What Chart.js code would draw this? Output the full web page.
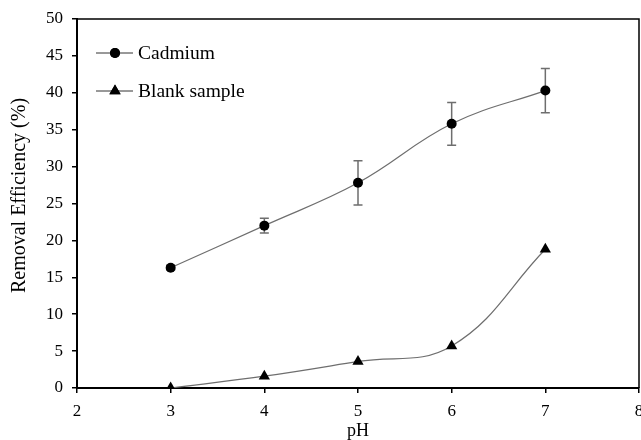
<!DOCTYPE html>
<html>
<head>
<meta charset="utf-8">
<script src="https://cdn.jsdelivr.net/npm/chart.js@4.4.1/dist/chart.umd.min.js"></script>
<style>
  html, body { margin: 0; padding: 0; background: #fff; }
  #wrap { width: 641px; height: 440px; }
</style>
</head>
<body>
<div id="wrap"><canvas id="chart" width="641" height="440"></canvas></div>
<script>
const PH = [3, 4, 5, 6, 7];
const CADMIUM = [16.3, 22.0, 27.8, 35.8, 40.3];
const CADMIUM_ERR = [0.3, 1.0, 3.0, 2.9, 3.0];
const BLANK = [0, 1.6, 3.6, 5.7, 18.8];
const SERIES_NAMES = ["Cadmium", "Blank sample"];
const X_TITLE = "pH";
const Y_TITLE = "Removal Efficiency (%)";

const SERIF = "'Liberation Serif', 'Times New Roman', serif";
const LINE_GREY = "#6e6e6e";

const toPoints = (ys) => PH.map((x, i) => ({ x, y: ys[i] }));

// vertical error bars for the cadmium series
const errorBars = {
  id: "errorBars",
  beforeDatasetsDraw(chart) {
    const { ctx, scales } = chart;
    ctx.save();
    ctx.strokeStyle = LINE_GREY;
    ctx.lineWidth = 1.5;
    PH.forEach((x, i) => {
      const px = scales.x.getPixelForValue(x);
      const top = scales.y.getPixelForValue(CADMIUM[i] + CADMIUM_ERR[i]);
      const bot = scales.y.getPixelForValue(CADMIUM[i] - CADMIUM_ERR[i]);
      ctx.beginPath();
      ctx.moveTo(px, top);
      ctx.lineTo(px, bot);
      ctx.moveTo(px - 4.5, top);
      ctx.lineTo(px + 4.5, top);
      ctx.moveTo(px - 4.5, bot);
      ctx.lineTo(px + 4.5, bot);
      ctx.stroke();
    });
    ctx.restore();
  },
};

// frame on top/right, the y title and the legend inside the plot
const frameAndLegend = {
  id: "frameAndLegend",
  afterDraw(chart) {
    const { ctx, chartArea: a } = chart;
    ctx.save();
    ctx.strokeStyle = "#000";
    ctx.lineWidth = 1.5;
    ctx.beginPath();
    ctx.moveTo(a.left, a.top);
    ctx.lineTo(a.right, a.top);
    ctx.lineTo(a.right, a.bottom);
    ctx.stroke();

    // y title sits a little above the middle in the original
    ctx.save();
    ctx.translate(20, (a.top + a.bottom) / 2 - 8);
    ctx.rotate(-Math.PI / 2);
    ctx.font = "20px " + SERIF;
    ctx.fillStyle = "#000";
    ctx.textAlign = "center";
    ctx.textBaseline = "middle";
    ctx.fillText(Y_TITLE, 0, 0);
    ctx.restore();

    ctx.font = "19.5px " + SERIF;
    ctx.textBaseline = "middle";
    chart.data.datasets.forEach((ds, i) => {
      const y = a.top + 34 + i * 38;
      const x0 = a.left + 19;
      ctx.strokeStyle = "#333";
      ctx.lineWidth = 1;
      ctx.beginPath();
      ctx.moveTo(x0, y);
      ctx.lineTo(x0 + 37, y);
      ctx.stroke();
      ctx.fillStyle = "#000";
      Chart.helpers.drawPoint(ctx, {
        pointStyle: ds.pointStyle,
        radius: ds.pointRadius,
        rotation: 0,
        borderWidth: 0,
      }, x0 + 19, y);
      ctx.fill();
      ctx.fillText(ds.label, x0 + 42, y + 1);
    });
    ctx.restore();
  },
};

new Chart(document.getElementById("chart"), {
  type: "line",
  data: {
    datasets: [
      {
        label: SERIES_NAMES[0],
        data: toPoints(CADMIUM),
        borderColor: LINE_GREY,
        borderWidth: 1.2,
        tension: 0.4,
        pointStyle: "circle",
        pointRadius: 5,
        pointBackgroundColor: "#000",
        pointBorderColor: "#000",
        pointBorderWidth: 0,
      },
      {
        label: SERIES_NAMES[1],
        data: toPoints(BLANK),
        borderColor: LINE_GREY,
        borderWidth: 1.2,
        tension: 0.4,
        pointStyle: "triangle",
        pointRadius: 6.5,
        pointBackgroundColor: "#000",
        pointBorderColor: "#000",
        pointBorderWidth: 0,
      },
    ],
  },
  options: {
    responsive: false,
    animation: false,
    events: [],
    layout: { autoPadding: false, padding: { top: 19, right: 2, left: 0, bottom: 0 } },
    plugins: {
      legend: { display: false },
      tooltip: { enabled: false },
    },
    scales: {
      x: {
        type: "linear",
        min: 2,
        max: 8,
        ticks: { stepSize: 1, color: "#000", padding: 8, font: { family: SERIF, size: 17 } },
        grid: { drawOnChartArea: false, drawTicks: true, tickLength: 5, color: "#000", lineWidth: 1.5 },
        border: { display: true, color: "#000", width: 2 },
        title: { display: true, text: X_TITLE, color: "#000", padding: { top: 0, bottom: -2 }, font: { family: SERIF, size: 18 } },
        afterFit(scale) {
          scale.height = 52;
          scale.paddingLeft = 0;
          scale.paddingRight = 0;
        },
      },
      y: {
        min: 0,
        max: 50,
        ticks: { stepSize: 5, color: "#000", padding: 9, font: { family: SERIF, size: 17 } },
        grid: { drawOnChartArea: false, drawTicks: true, tickLength: 5, color: "#000", lineWidth: 1.5 },
        border: { display: true, color: "#000", width: 2 },
        afterFit(scale) {
          scale.width = 77;
          scale.paddingTop = 0;
          scale.paddingBottom = 0;
        },
      },
    },
  },
  plugins: [errorBars, frameAndLegend],
});
</script>
</body>
</html>
